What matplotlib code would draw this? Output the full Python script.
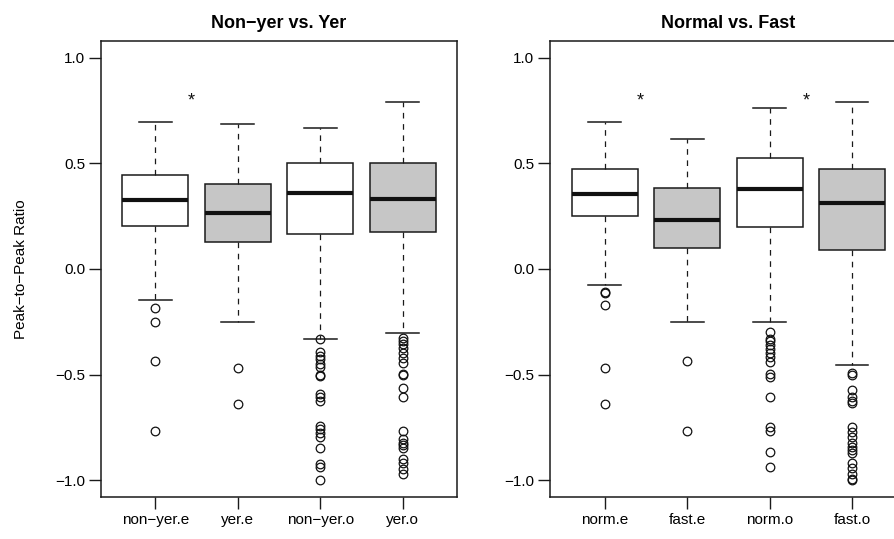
import matplotlib
matplotlib.use("Agg")
import matplotlib.pyplot as plt

plt.rcParams['font.family'] = ['Liberation Sans', 'DejaVu Sans']

# ---------------- data ----------------
y_ticks = [-1.0, -0.5, 0.0, 0.5, 1.0]
y_tick_labels = ["\u22121.0", "\u22120.5", "0.0", "0.5", "1.0"]
y_label = "Peak\u2212to\u2212Peak Ratio"

p1_title = "Non\u2212yer vs. Yer"
p1_labels = ["non\u2212yer.e", "yer.e", "non\u2212yer.o", "yer.o"]
p1_med = [0.327, 0.266, 0.358, 0.332]
p1_q1 = [0.203, 0.127, 0.166, 0.176]
p1_q3 = [0.444, 0.405, 0.500, 0.503]
p1_whislo = [-0.145, -0.253, -0.330, -0.304]
p1_whishi = [0.694, 0.688, 0.666, 0.791]
p1_fliers_1 = [-0.183, -0.251, -0.435, -0.767]
p1_fliers_2 = [-0.470, -0.640]
p1_fliers_3 = [-0.331, -0.395, -0.414, -0.428, -0.452, -0.466, -0.500, -0.509,
               -0.594, -0.608, -0.623, -0.746, -0.760, -0.779, -0.798, -0.846,
               -0.926, -0.936, -1.000]
p1_fliers_4 = [-0.329, -0.343, -0.357, -0.376, -0.400, -0.423, -0.443, -0.495,
               -0.504, -0.566, -0.608, -0.765, -0.803, -0.822, -0.836, -0.850,
               -0.898, -0.921, -0.945, -0.969]
p1_star_x = [1.43]
p1_star_y = [0.775]

p2_title = "Normal vs. Fast"
p2_labels = ["norm.e", "fast.e", "norm.o", "fast.o"]
p2_med = [0.356, 0.231, 0.377, 0.312]
p2_q1 = [0.251, 0.100, 0.201, 0.090]
p2_q3 = [0.476, 0.384, 0.524, 0.476]
p2_whislo = [-0.077, -0.253, -0.250, -0.457]
p2_whishi = [0.694, 0.617, 0.764, 0.791]
p2_fliers_1 = [-0.109, -0.113, -0.169, -0.470, -0.640]
p2_fliers_2 = [-0.435, -0.767]
p2_fliers_3 = [-0.299, -0.330, -0.343, -0.362, -0.378, -0.398, -0.417, -0.441,
               -0.496, -0.512, -0.604, -0.750, -0.769, -0.865, -0.939]
p2_fliers_4 = [-0.492, -0.500, -0.571, -0.608, -0.623, -0.637, -0.750, -0.774,
               -0.798, -0.822, -0.841, -0.855, -0.870, -0.917, -0.941, -0.969,
               -0.993, -1.000]
p2_star_x = [1.43, 3.45]
p2_star_y = [0.775, 0.775]

# ---------------- style ----------------
box_fills = ["white", "#C6C6C6", "white", "#C6C6C6"]
W, H = 894, 539


def make_stats(labels, med, q1, q3, lo, hi, fliers):
    return [dict(label=l, med=m, q1=a, q3=b, whislo=c, whishi=d, fliers=f)
            for l, m, a, b, c, d, f in zip(labels, med, q1, q3, lo, hi, fliers)]


def draw(ax, stats, title, star_x, star_y):
    res = ax.bxp(stats, positions=[1, 2, 3, 4], widths=0.8, capwidths=0.4,
                 patch_artist=True, manage_ticks=False,
                 boxprops=dict(linewidth=1.1, edgecolor="#1a1a1a"),
                 medianprops=dict(linewidth=3.0, color="#111111", solid_capstyle="butt"),
                 whiskerprops=dict(linewidth=0.9, color="#1a1a1a", linestyle=(0, (4.5, 4.5))),
                 capprops=dict(linewidth=1.1, color="#1a1a1a"),
                 flierprops=dict(marker="o", markersize=6.2, markerfacecolor="none",
                                 markeredgecolor="#111111", markeredgewidth=0.9,
                                 linestyle="none"))
    for patch, fc in zip(res["boxes"], box_fills):
        patch.set_facecolor(fc)
    for sx, sy in zip(star_x, star_y):
        ax.text(sx, sy, "*", ha="center", va="baseline", fontsize=13, color="#111111")
    ax.set_xlim(0.34, 4.66)
    ax.set_ylim(-1.08, 1.08)
    ax.set_xticks([1, 2, 3, 4])
    ax.set_xticklabels([s["label"] for s in stats], fontsize=11)
    ax.set_yticks(y_ticks)
    ax.set_yticklabels(y_tick_labels, fontsize=11)
    ax.tick_params(direction="out", length=8.5, width=1.0, pad=3, color="#1a1a1a")
    for sp in ax.spines.values():
        sp.set_linewidth(1.1)
        sp.set_color("#1a1a1a")
    ax.set_title(title, fontsize=13, fontweight="bold", pad=9.5)


fig = plt.figure(figsize=(W / 100, H / 100), dpi=100)
ax1 = fig.add_axes([101 / W, 42 / H, 356 / W, 456 / H])
ax2 = fig.add_axes([550.4 / W, 42 / H, 356 / W, 456 / H])

s1 = make_stats(p1_labels, p1_med, p1_q1, p1_q3, p1_whislo, p1_whishi,
                [p1_fliers_1, p1_fliers_2, p1_fliers_3, p1_fliers_4])
s2 = make_stats(p2_labels, p2_med, p2_q1, p2_q3, p2_whislo, p2_whishi,
                [p2_fliers_1, p2_fliers_2, p2_fliers_3, p2_fliers_4])
draw(ax1, s1, p1_title, p1_star_x, p1_star_y)
draw(ax2, s2, p2_title, p2_star_x, p2_star_y)

ax1.set_ylabel(y_label, fontsize=11, va="center")
ax1.yaxis.set_label_coords((21 - 101) / 356, 0.5)

fig.savefig("out.png", dpi=100)
